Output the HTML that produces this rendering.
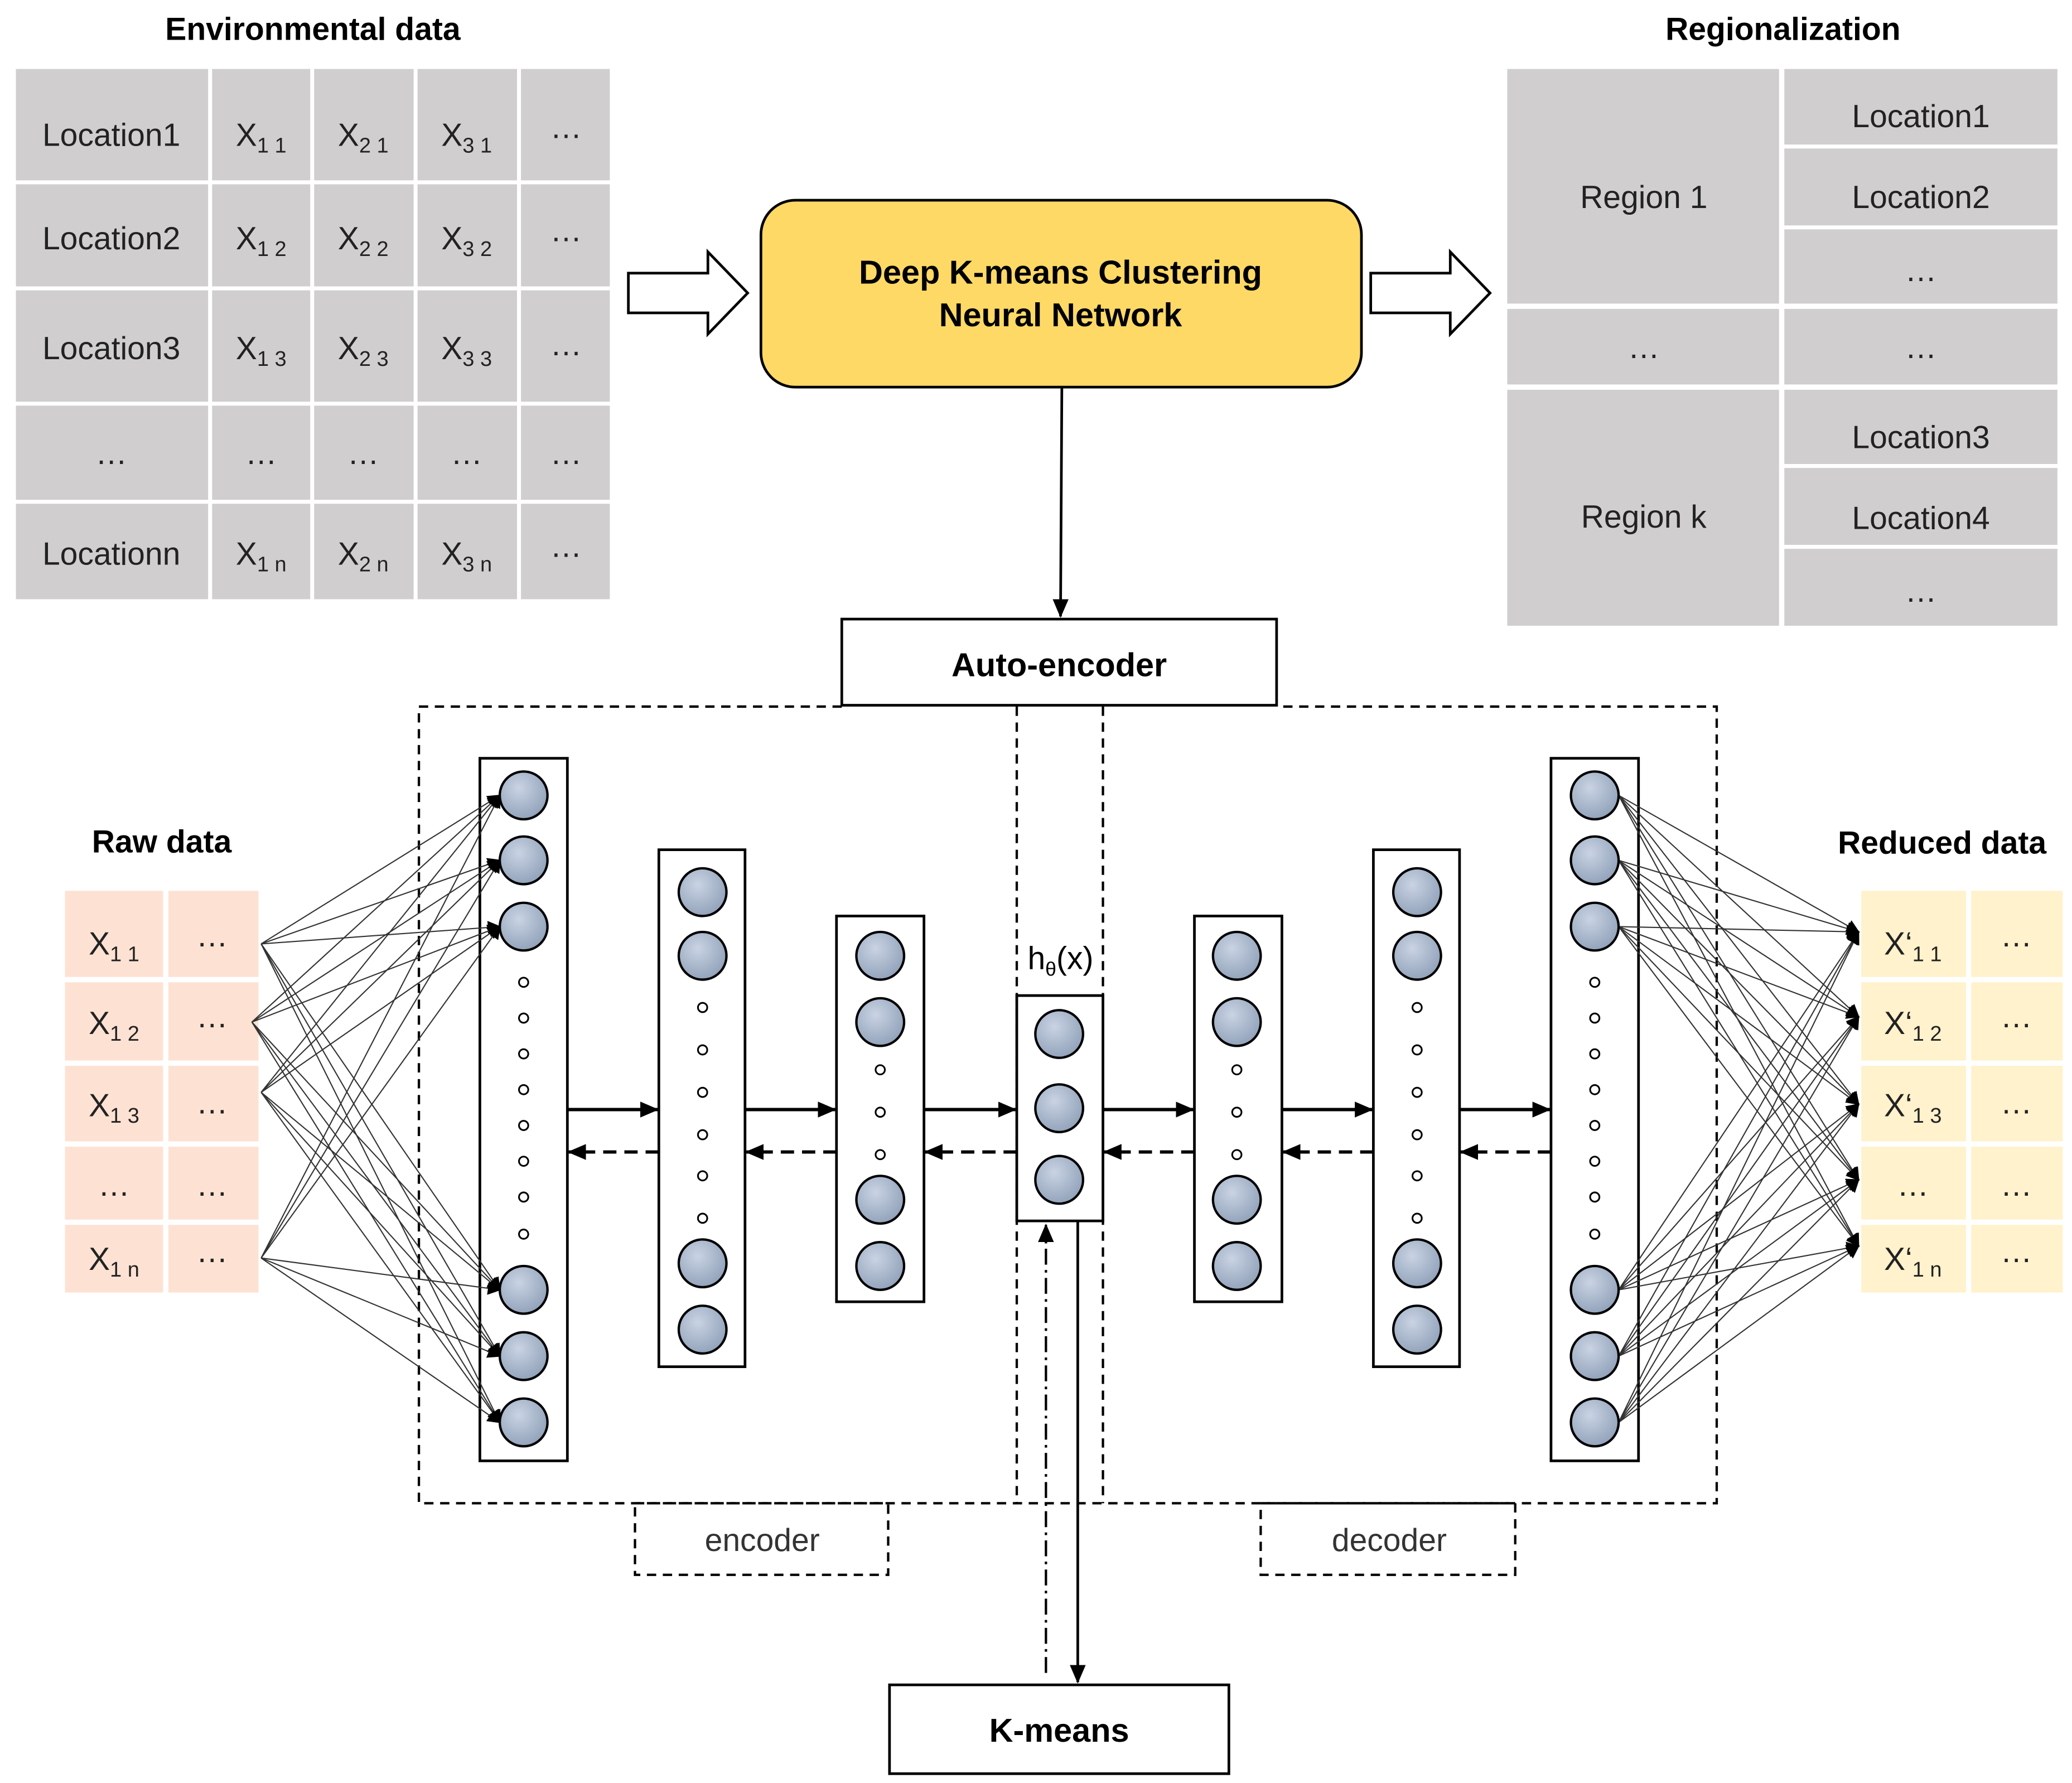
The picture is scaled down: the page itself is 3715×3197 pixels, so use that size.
<!DOCTYPE html>
<html><head><meta charset="utf-8"><style>
html,body{margin:0;padding:0;background:#fff}
svg{display:block}
text{font-family:"Liberation Sans",sans-serif}
</style></head><body>
<svg width="3715" height="3197" viewBox="0 0 1563 1345" xmlns="http://www.w3.org/2000/svg">
<defs>
<marker id="ah" markerWidth="10" markerHeight="10" refX="9" refY="5" orient="auto" markerUnits="userSpaceOnUse"><path d="M0,0 L10,5 L0,10 z" fill="#000"/></marker>
<marker id="ahs" markerWidth="14" markerHeight="14" refX="13" refY="7" orient="auto" markerUnits="userSpaceOnUse"><path d="M0,1 L14,7 L0,13 z" fill="#000"/></marker>
<radialGradient id="cg" cx="40%" cy="35%" r="70%"><stop offset="0" stop-color="#c9d3e3"/><stop offset="1" stop-color="#8fa0b8"/></radialGradient>
</defs>
<rect width="1563" height="1345" fill="#fff"/>
<g font-weight="bold" font-size="24" text-anchor="middle">
<text x="236" y="30">Environmental data</text>
<text x="1345" y="30">Regionalization</text>
<text x="122" y="643">Raw data</text>
<text x="1465" y="644">Reduced data</text>
</g>
<g fill="#d0cecf">
<rect x="12" y="52" width="145" height="84"/><rect x="160" y="52" width="74" height="84"/><rect x="237" y="52" width="75" height="84"/><rect x="315" y="52" width="75" height="84"/><rect x="393" y="52" width="67" height="84"/>
<rect x="12" y="139" width="145" height="77"/><rect x="160" y="139" width="74" height="77"/><rect x="237" y="139" width="75" height="77"/><rect x="315" y="139" width="75" height="77"/><rect x="393" y="139" width="67" height="77"/>
<rect x="12" y="219" width="145" height="84"/><rect x="160" y="219" width="74" height="84"/><rect x="237" y="219" width="75" height="84"/><rect x="315" y="219" width="75" height="84"/><rect x="393" y="219" width="67" height="84"/>
<rect x="12" y="306" width="145" height="71"/><rect x="160" y="306" width="74" height="71"/><rect x="237" y="306" width="75" height="71"/><rect x="315" y="306" width="75" height="71"/><rect x="393" y="306" width="67" height="71"/>
<rect x="12" y="380" width="145" height="72"/><rect x="160" y="380" width="74" height="72"/><rect x="237" y="380" width="75" height="72"/><rect x="315" y="380" width="75" height="72"/><rect x="393" y="380" width="67" height="72"/>
</g>
<g font-size="24" fill="#222" text-anchor="middle">
<text x="84" y="110">Location1</text><text x="84" y="188">Location2</text><text x="84" y="271">Location3</text><text x="84" y="350">…</text><text x="84" y="426">Locationn</text>
<text x="197" y="110">X<tspan font-size="16" dy="5">1 1</tspan></text>
<text x="274" y="110">X<tspan font-size="16" dy="5">2 1</tspan></text>
<text x="352" y="110">X<tspan font-size="16" dy="5">3 1</tspan></text>
<text x="197" y="188">X<tspan font-size="16" dy="5">1 2</tspan></text>
<text x="274" y="188">X<tspan font-size="16" dy="5">2 2</tspan></text>
<text x="352" y="188">X<tspan font-size="16" dy="5">3 2</tspan></text>
<text x="197" y="271">X<tspan font-size="16" dy="5">1 3</tspan></text>
<text x="274" y="271">X<tspan font-size="16" dy="5">2 3</tspan></text>
<text x="352" y="271">X<tspan font-size="16" dy="5">3 3</tspan></text>
<text x="197" y="350">…</text><text x="274" y="350">…</text><text x="352" y="350">…</text>
<text x="197" y="426">X<tspan font-size="16" dy="5">1 n</tspan></text>
<text x="274" y="426">X<tspan font-size="16" dy="5">2 n</tspan></text>
<text x="352" y="426">X<tspan font-size="16" dy="5">3 n</tspan></text>
<text x="427" y="104">…</text><text x="427" y="182">…</text><text x="427" y="268">…</text><text x="427" y="350">…</text><text x="427" y="420">…</text>
</g>
<path d="M474,206 L534,206 L534,190 L564,221 L534,252 L534,236 L474,236 z" fill="#fff" stroke="#000" stroke-width="2"/>
<path d="M1034,206 L1094,206 L1094,190 L1124,221 L1094,252 L1094,236 L1034,236 z" fill="#fff" stroke="#000" stroke-width="2"/>
<rect x="574" y="151" width="453" height="141" rx="26" fill="#ffd966" stroke="#000" stroke-width="2"/>
<g font-weight="bold" font-size="25" text-anchor="middle"><text x="800" y="214">Deep K-means Clustering</text><text x="800" y="246">Neural Network</text></g>
<g fill="#d0cecf">
<rect x="1137" y="52" width="205" height="177"/><rect x="1137" y="233" width="205" height="57"/><rect x="1137" y="294" width="205" height="178"/>
<rect x="1346" y="52" width="206" height="57"/><rect x="1346" y="112" width="206" height="58"/><rect x="1346" y="173" width="206" height="56"/><rect x="1346" y="233" width="206" height="57"/><rect x="1346" y="294" width="206" height="56"/><rect x="1346" y="353" width="206" height="58"/><rect x="1346" y="414" width="206" height="58"/>
</g>
<g font-size="24" fill="#222" text-anchor="middle">
<text x="1240" y="157">Region 1</text><text x="1240" y="270">…</text><text x="1240" y="398">Region k</text>
<text x="1449" y="96">Location1</text><text x="1449" y="157">Location2</text><text x="1449" y="212">…</text><text x="1449" y="270">…</text><text x="1449" y="338">Location3</text><text x="1449" y="399">Location4</text><text x="1449" y="454">…</text>
</g>
<line x1="801" y1="292" x2="800" y2="465" stroke="#000" stroke-width="2" marker-end="url(#ahs)"/>
<rect x="635" y="467" width="328" height="65" fill="#fff" stroke="#000" stroke-width="2"/>
<text x="799" y="510" font-weight="bold" font-size="25" text-anchor="middle">Auto-encoder</text>
<g fill="none" stroke="#000" stroke-width="1.8" stroke-dasharray="7,5">
<path d="M635,533 L316,533 L316,1134 L1295,1134 L1295,533 L963,533"/>
<line x1="767" y1="533" x2="767" y2="1134"/><line x1="832" y1="533" x2="832" y2="1134"/>
<rect x="479" y="1134" width="191" height="54"/><rect x="951" y="1134" width="192" height="54"/>
</g>
<g font-size="24" fill="#333" text-anchor="middle"><text x="575" y="1170">encoder</text><text x="1048" y="1170">decoder</text></g>
<g fill="#fde2d3">
<rect x="49" y="672" width="74" height="65"/><rect x="127" y="672" width="68" height="65"/>
<rect x="49" y="741" width="74" height="59"/><rect x="127" y="741" width="68" height="59"/>
<rect x="49" y="804" width="74" height="57"/><rect x="127" y="804" width="68" height="57"/>
<rect x="49" y="865" width="74" height="55"/><rect x="127" y="865" width="68" height="55"/>
<rect x="49" y="924" width="74" height="51"/><rect x="127" y="924" width="68" height="51"/>
</g>
<g fill="#fff2cc">
<rect x="1404" y="672" width="79" height="65"/><rect x="1487" y="672" width="69" height="65"/>
<rect x="1404" y="741" width="79" height="59"/><rect x="1487" y="741" width="69" height="59"/>
<rect x="1404" y="804" width="79" height="57"/><rect x="1487" y="804" width="69" height="57"/>
<rect x="1404" y="865" width="79" height="55"/><rect x="1487" y="865" width="69" height="55"/>
<rect x="1404" y="924" width="79" height="51"/><rect x="1487" y="924" width="69" height="51"/>
</g>
<g font-size="24" fill="#222" text-anchor="middle">
<text x="86" y="720">X<tspan font-size="16" dy="5">1 1</tspan></text>
<text x="86" y="780">X<tspan font-size="16" dy="5">1 2</tspan></text>
<text x="86" y="842">X<tspan font-size="16" dy="5">1 3</tspan></text>
<text x="86" y="902">…</text>
<text x="86" y="958">X<tspan font-size="16" dy="5">1 n</tspan></text>
<text x="160" y="714">…</text><text x="160" y="775">…</text><text x="160" y="840">…</text><text x="160" y="902">…</text><text x="160" y="952">…</text>
<text x="1443" y="720">X‘<tspan font-size="16" dy="5">1 1</tspan></text>
<text x="1443" y="780">X‘<tspan font-size="16" dy="5">1 2</tspan></text>
<text x="1443" y="842">X‘<tspan font-size="16" dy="5">1 3</tspan></text>
<text x="1443" y="902">…</text>
<text x="1443" y="958">X‘<tspan font-size="16" dy="5">1 n</tspan></text>
<text x="1521" y="714">…</text><text x="1521" y="775">…</text><text x="1521" y="840">…</text><text x="1521" y="902">…</text><text x="1521" y="952">…</text>
</g>
<!-- layer boxes first -->
<g fill="#fff" stroke="#000" stroke-width="2">
<rect x="362" y="572" width="66" height="530"/><rect x="497" y="641" width="65" height="390"/><rect x="631" y="691" width="66" height="291"/>
<rect x="767" y="751" width="65" height="170"/>
<rect x="901" y="691" width="66" height="291"/><rect x="1036" y="641" width="65" height="390"/><rect x="1170" y="572" width="66" height="530"/>
</g>
<g stroke="#333" stroke-width="0.9">
<line x1="197" y1="712" x2="377" y2="600" marker-end="url(#ah)"/><line x1="197" y1="712" x2="377" y2="649" marker-end="url(#ah)"/><line x1="197" y1="712" x2="377" y2="699" marker-end="url(#ah)"/><line x1="197" y1="712" x2="377" y2="973" marker-end="url(#ah)"/><line x1="197" y1="712" x2="377" y2="1023" marker-end="url(#ah)"/><line x1="197" y1="712" x2="377" y2="1073" marker-end="url(#ah)"/>
<line x1="190" y1="771" x2="377" y2="600" marker-end="url(#ah)"/><line x1="190" y1="771" x2="377" y2="649" marker-end="url(#ah)"/><line x1="190" y1="771" x2="377" y2="699" marker-end="url(#ah)"/><line x1="190" y1="771" x2="377" y2="973" marker-end="url(#ah)"/><line x1="190" y1="771" x2="377" y2="1023" marker-end="url(#ah)"/><line x1="190" y1="771" x2="377" y2="1073" marker-end="url(#ah)"/>
<line x1="197" y1="824" x2="377" y2="600" marker-end="url(#ah)"/><line x1="197" y1="824" x2="377" y2="649" marker-end="url(#ah)"/><line x1="197" y1="824" x2="377" y2="699" marker-end="url(#ah)"/><line x1="197" y1="824" x2="377" y2="973" marker-end="url(#ah)"/><line x1="197" y1="824" x2="377" y2="1023" marker-end="url(#ah)"/><line x1="197" y1="824" x2="377" y2="1073" marker-end="url(#ah)"/>
<line x1="197" y1="949" x2="377" y2="600" marker-end="url(#ah)"/><line x1="197" y1="949" x2="377" y2="649" marker-end="url(#ah)"/><line x1="197" y1="949" x2="377" y2="699" marker-end="url(#ah)"/><line x1="197" y1="949" x2="377" y2="973" marker-end="url(#ah)"/><line x1="197" y1="949" x2="377" y2="1023" marker-end="url(#ah)"/><line x1="197" y1="949" x2="377" y2="1073" marker-end="url(#ah)"/>
<line x1="1221" y1="600" x2="1402" y2="703" marker-end="url(#ah)"/><line x1="1221" y1="600" x2="1402" y2="767" marker-end="url(#ah)"/><line x1="1221" y1="600" x2="1402" y2="833" marker-end="url(#ah)"/><line x1="1221" y1="600" x2="1402" y2="890" marker-end="url(#ah)"/><line x1="1221" y1="600" x2="1402" y2="940" marker-end="url(#ah)"/>
<line x1="1221" y1="649" x2="1402" y2="703" marker-end="url(#ah)"/><line x1="1221" y1="649" x2="1402" y2="767" marker-end="url(#ah)"/><line x1="1221" y1="649" x2="1402" y2="833" marker-end="url(#ah)"/><line x1="1221" y1="649" x2="1402" y2="890" marker-end="url(#ah)"/><line x1="1221" y1="649" x2="1402" y2="940" marker-end="url(#ah)"/>
<line x1="1221" y1="699" x2="1402" y2="703" marker-end="url(#ah)"/><line x1="1221" y1="699" x2="1402" y2="767" marker-end="url(#ah)"/><line x1="1221" y1="699" x2="1402" y2="833" marker-end="url(#ah)"/><line x1="1221" y1="699" x2="1402" y2="890" marker-end="url(#ah)"/><line x1="1221" y1="699" x2="1402" y2="940" marker-end="url(#ah)"/>
<line x1="1221" y1="973" x2="1402" y2="703" marker-end="url(#ah)"/><line x1="1221" y1="973" x2="1402" y2="767" marker-end="url(#ah)"/><line x1="1221" y1="973" x2="1402" y2="833" marker-end="url(#ah)"/><line x1="1221" y1="973" x2="1402" y2="890" marker-end="url(#ah)"/><line x1="1221" y1="973" x2="1402" y2="940" marker-end="url(#ah)"/>
<line x1="1221" y1="1023" x2="1402" y2="703" marker-end="url(#ah)"/><line x1="1221" y1="1023" x2="1402" y2="767" marker-end="url(#ah)"/><line x1="1221" y1="1023" x2="1402" y2="833" marker-end="url(#ah)"/><line x1="1221" y1="1023" x2="1402" y2="890" marker-end="url(#ah)"/><line x1="1221" y1="1023" x2="1402" y2="940" marker-end="url(#ah)"/>
<line x1="1221" y1="1073" x2="1402" y2="703" marker-end="url(#ah)"/><line x1="1221" y1="1073" x2="1402" y2="767" marker-end="url(#ah)"/><line x1="1221" y1="1073" x2="1402" y2="833" marker-end="url(#ah)"/><line x1="1221" y1="1073" x2="1402" y2="890" marker-end="url(#ah)"/><line x1="1221" y1="1073" x2="1402" y2="940" marker-end="url(#ah)"/>
</g>
<g fill="url(#cg)" stroke="#000" stroke-width="1.8">
<circle cx="395" cy="600" r="18"/><circle cx="395" cy="649" r="18"/><circle cx="395" cy="699" r="18"/><circle cx="395" cy="973" r="18"/><circle cx="395" cy="1023" r="18"/><circle cx="395" cy="1073" r="18"/>
<circle cx="1203" cy="600" r="18"/><circle cx="1203" cy="649" r="18"/><circle cx="1203" cy="699" r="18"/><circle cx="1203" cy="973" r="18"/><circle cx="1203" cy="1023" r="18"/><circle cx="1203" cy="1073" r="18"/>
<circle cx="530" cy="673" r="18"/><circle cx="530" cy="721" r="18"/><circle cx="530" cy="953" r="18"/><circle cx="530" cy="1003" r="18"/>
<circle cx="1069" cy="673" r="18"/><circle cx="1069" cy="721" r="18"/><circle cx="1069" cy="953" r="18"/><circle cx="1069" cy="1003" r="18"/>
<circle cx="664" cy="721" r="18"/><circle cx="664" cy="771" r="18"/><circle cx="664" cy="905" r="18"/><circle cx="664" cy="955" r="18"/>
<circle cx="933" cy="721" r="18"/><circle cx="933" cy="771" r="18"/><circle cx="933" cy="905" r="18"/><circle cx="933" cy="955" r="18"/>
<circle cx="799" cy="780" r="18"/><circle cx="799" cy="836" r="18"/><circle cx="799" cy="890" r="18"/>
</g>
<g fill="#fff" stroke="#000" stroke-width="1.3">
<circle cx="395" cy="741" r="3.5"/><circle cx="395" cy="768" r="3.5"/><circle cx="395" cy="795" r="3.5"/><circle cx="395" cy="822" r="3.5"/><circle cx="395" cy="849" r="3.5"/><circle cx="395" cy="876" r="3.5"/><circle cx="395" cy="903" r="3.5"/><circle cx="395" cy="931" r="3.5"/>
<circle cx="1203" cy="741" r="3.5"/><circle cx="1203" cy="768" r="3.5"/><circle cx="1203" cy="795" r="3.5"/><circle cx="1203" cy="822" r="3.5"/><circle cx="1203" cy="849" r="3.5"/><circle cx="1203" cy="876" r="3.5"/><circle cx="1203" cy="903" r="3.5"/><circle cx="1203" cy="931" r="3.5"/>
<circle cx="530" cy="760" r="3.5"/><circle cx="530" cy="792" r="3.5"/><circle cx="530" cy="824" r="3.5"/><circle cx="530" cy="856" r="3.5"/><circle cx="530" cy="887" r="3.5"/><circle cx="530" cy="919" r="3.5"/>
<circle cx="1069" cy="760" r="3.5"/><circle cx="1069" cy="792" r="3.5"/><circle cx="1069" cy="824" r="3.5"/><circle cx="1069" cy="856" r="3.5"/><circle cx="1069" cy="887" r="3.5"/><circle cx="1069" cy="919" r="3.5"/>
<circle cx="664" cy="807" r="3.5"/><circle cx="664" cy="839" r="3.5"/><circle cx="664" cy="871" r="3.5"/>
<circle cx="933" cy="807" r="3.5"/><circle cx="933" cy="839" r="3.5"/><circle cx="933" cy="871" r="3.5"/>
</g>
<text x="800" y="731" font-size="24" text-anchor="middle">h<tspan font-size="15" dy="5">θ</tspan><tspan dy="-5">(x)</tspan></text>
<g stroke="#000" stroke-width="2.5">
<line x1="428" y1="837" x2="496" y2="837" marker-end="url(#ahs)"/><line x1="562" y1="837" x2="630" y2="837" marker-end="url(#ahs)"/><line x1="697" y1="837" x2="766" y2="837" marker-end="url(#ahs)"/>
<line x1="832" y1="837" x2="900" y2="837" marker-end="url(#ahs)"/><line x1="967" y1="837" x2="1035" y2="837" marker-end="url(#ahs)"/><line x1="1101" y1="837" x2="1169" y2="837" marker-end="url(#ahs)"/>
</g>
<g stroke="#000" stroke-width="2.5" stroke-dasharray="10,6">
<line x1="497" y1="869" x2="429" y2="869" marker-end="url(#ahs)"/><line x1="631" y1="869" x2="563" y2="869" marker-end="url(#ahs)"/><line x1="767" y1="869" x2="698" y2="869" marker-end="url(#ahs)"/>
<line x1="901" y1="869" x2="833" y2="869" marker-end="url(#ahs)"/><line x1="1036" y1="869" x2="968" y2="869" marker-end="url(#ahs)"/><line x1="1170" y1="869" x2="1102" y2="869" marker-end="url(#ahs)"/>
</g>
<line x1="813" y1="921" x2="813" y2="1269" stroke="#000" stroke-width="2" marker-end="url(#ahs)"/>
<line x1="789" y1="1262" x2="789" y2="924" stroke="#000" stroke-width="1.8" stroke-dasharray="12,4,2,4" marker-end="url(#ahs)"/>
<rect x="671" y="1271" width="256" height="67" fill="#fff" stroke="#000" stroke-width="2"/>
<text x="799" y="1314" font-weight="bold" font-size="25" text-anchor="middle">K-means</text>
</svg>
</body></html>
